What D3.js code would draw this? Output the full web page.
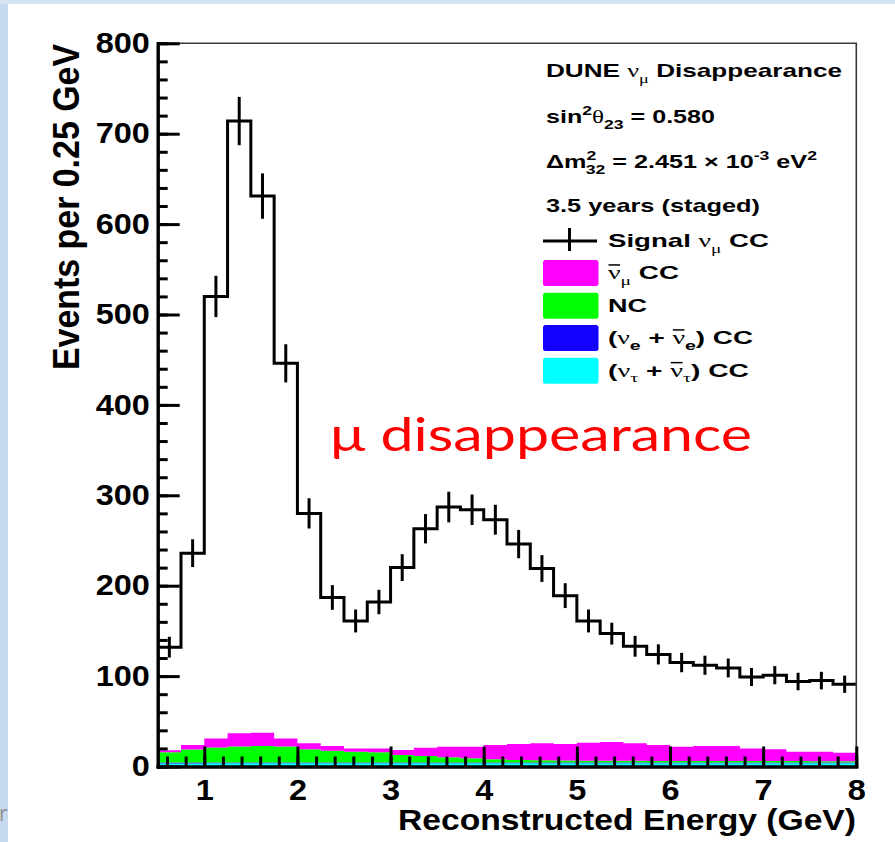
<!DOCTYPE html>
<html>
<head>
<meta charset="utf-8">
<script src="https://cdn.jsdelivr.net/npm/d3@7"></script>
<style>
  html, body { margin: 0; padding: 0; background: #ffffff; }
  svg { display: block; }
  .root-text { font-family: "Liberation Sans", Arial, Helvetica, sans-serif; font-weight: bold; fill: #000; }
</style>
</head>
<body>
<svg id="chart" width="895" height="842"></svg>
<script>
// ---- Data: reconstructed-energy histograms, 0.25 GeV bins from 0.5 to 8 GeV ----
const binLowEdges = [0.5, 0.75, 1.0, 1.25, 1.5, 1.75, 2.0, 2.25, 2.5, 2.75,
                     3.0, 3.25, 3.5, 3.75, 4.0, 4.25, 4.5, 4.75, 5.0, 5.25,
                     5.5, 5.75, 6.0, 6.25, 6.5, 6.75, 7.0, 7.25, 7.5, 7.75];
const binWidth = 0.25;

// Signal nu_mu CC events per bin
const signalNumuCC = [132, 236, 520, 714, 631, 446, 280, 187, 161, 182,
                      220, 263, 287, 284, 273, 246, 219, 189, 161, 147,
                      133, 124, 115, 112, 109, 99, 101, 94, 95, 91];

// Backgrounds (stacked, bottom to top: nu_tau, nu_e, NC, anti-nu_mu)
const nutauCC = [3.4, 3.4, 3.5, 3.5, 3.5, 3.5, 3.5, 3.5, 3.5, 3.5,
                 3.5, 3.5, 3.5, 3.5, 3.5, 3.5, 3.5, 3.5, 3.5, 3.5,
                 3.5, 3.5, 3.5, 3.5, 3.5, 3.5, 3.5, 3.5, 3.5, 3.5];
const nueCC = [1.0, 1.0, 1.0, 1.0, 1.0, 1.0, 1.0, 1.0, 1.0, 1.0,
               1.0, 1.0, 1.0, 1.0, 1.0, 1.0, 1.0, 1.0, 1.0, 1.0,
               1.0, 1.0, 1.0, 1.0, 1.0, 1.0, 1.0, 1.0, 1.0, 1.0];
const ncEvents = [11.5, 14.5, 16.5, 17.5, 18.2, 17.5, 14.5, 13.0, 11.9, 11.2,
                  8.2, 7.1, 5.6, 4.5, 3.4, 2.7, 2.3, 2.0, 1.9, 1.8,
                  1.8, 1.7, 1.7, 1.6, 1.6, 1.5, 1.5, 1.5, 1.4, 1.4];
const numubarCC = [2.0, 5.0, 10.0, 14.7, 14.7, 9.0, 6.6, 5.2, 3.6, 4.3,
                   5.6, 9.2, 11.8, 12.9, 15.9, 17.7, 18.8, 18.4, 20.0, 20.7,
                   19.3, 17.6, 15.7, 16.6, 16.6, 14.0, 13.0, 10.4, 10.5, 9.4];

// Axis ticks
const yMajorTicks = [0, 100, 200, 300, 400, 500, 600, 700, 800];
const xMajorTicks = [1, 2, 3, 4, 5, 6, 7, 8];

// ---- Layout ----
const svg = d3.select("#chart");
const W = 895, H = 842;

const x = d3.scaleLinear().domain([0.5, 8]).range([157.7, 856.3]);
const y = d3.scaleLinear().domain([0, 800]).range([766.5, 43.3]);

// slide backdrop and white canvas
svg.append("rect").attr("width", W).attr("height", H).attr("fill", "#d3e3f4");
svg.append("rect").attr("x", 0).attr("y", 4).attr("width", 8).attr("height", H - 4).attr("fill", "#c6daef");
svg.append("rect").attr("x", 8).attr("y", 4).attr("width", W - 8).attr("height", H - 4).attr("fill", "#ffffff");
svg.append("text").attr("x", -1).attr("y", 821)
  .attr("font-family", "'Open Sans', sans-serif").attr("font-size", 21).attr("fill", "#8f8f8f").text("r");

// ---- Stacked background fills ----
const bins = binLowEdges.map((lo, i) => ({
  lo, hi: lo + binWidth,
  nutau: nutauCC[i], nue: nueCC[i], nc: ncEvents[i], numubar: numubarCC[i]
}));
const stackKeys = ["nutau", "nue", "nc", "numubar"];
const stackColors = { nutau: "#00ffff", nue: "#1400ff", nc: "#00ff00", numubar: "#ff00ff" };
const layers = d3.stack().keys(stackKeys)(bins);

const stepArea = d3.area()
  .x(d => x(d.x)).y0(d => y(d.y0)).y1(d => y(d.y1));

const fillG = svg.append("g");
layers.forEach(layer => {
  const pts = [];
  layer.forEach(seg => {
    pts.push({ x: seg.data.lo, y0: seg[0], y1: seg[1] });
    pts.push({ x: seg.data.hi, y0: seg[0], y1: seg[1] });
  });
  fillG.append("path").attr("d", stepArea(pts))
    .attr("fill", stackColors[layer.key]).attr("stroke", "none");
});

// ---- Signal histogram outline with Poisson error bars ----
const stepPts = [];
binLowEdges.forEach((lo, i) => {
  stepPts.push([lo, signalNumuCC[i]]);
  stepPts.push([lo + binWidth, signalNumuCC[i]]);
});
const stepLine = d3.line().x(d => x(d[0])).y(d => y(d[1]));
svg.append("path").attr("d", stepLine(stepPts))
  .attr("fill", "none").attr("stroke", "#000").attr("stroke-width", 3)
  .attr("stroke-linejoin", "miter");

svg.append("g").selectAll("line").data(binLowEdges.map((lo, i) => ({ c: lo + binWidth / 2, v: signalNumuCC[i] })))
  .join("line")
  .attr("x1", d => x(d.c)).attr("x2", d => x(d.c))
  .attr("y1", d => y(d.v + Math.sqrt(d.v))).attr("y2", d => y(d.v - Math.sqrt(d.v)))
  .attr("stroke", "#000").attr("stroke-width", 3);

// ---- Frame (thin top/right) ----
svg.append("path")
  .attr("d", `M${x(0.5)},${y(800)}H${x(8)}V${y(0)}`)
  .attr("fill", "none").attr("stroke", "#3a3a3a").attr("stroke-width", 1.6);

// ---- Axes with inward ticks ----
const labelScale = 1.12;
function styleAxis(g) {
  g.select(".domain").attr("stroke", "#000").attr("stroke-width", 3);
  g.selectAll(".tick line").attr("stroke", "#000").attr("stroke-width", 3);
}
const yMinor = svg.append("g").attr("transform", `translate(${x(0.5)},0)`)
  .call(d3.axisLeft(y).tickValues(d3.range(0, 801, 20)).tickSize(-10).tickSizeOuter(0).tickFormat(""));
styleAxis(yMinor);
const yMajor = svg.append("g").attr("transform", `translate(${x(0.5)},0)`)
  .call(d3.axisLeft(y).tickValues(yMajorTicks).tickSize(-22).tickSizeOuter(0).tickPadding(7));
styleAxis(yMajor);
yMajor.selectAll(".tick text").attr("class", "root-text").attr("font-size", 29)
  .attr("transform", `scale(${labelScale},1)`);

const xMinorVals = d3.range(3, 41).map(k => k * 0.2).filter(v => v > 0.5 && v < 8.01);
const xMinor = svg.append("g").attr("transform", `translate(0,${y(0)})`)
  .call(d3.axisBottom(x).tickValues(xMinorVals).tickSize(-10).tickSizeOuter(0).tickFormat(""));
styleAxis(xMinor);
const xMajor = svg.append("g").attr("transform", `translate(0,${y(0)})`)
  .call(d3.axisBottom(x).tickValues(xMajorTicks).tickSize(-20).tickSizeOuter(0).tickPadding(13).tickFormat(d3.format("d")));
styleAxis(xMajor);
xMajor.selectAll(".tick text").attr("class", "root-text").attr("font-size", 29)
  .each(function () {
    const t = d3.select(this);
    t.attr("transform", `scale(${labelScale},1)`).attr("x", 0);
  });
svg.selectAll(".domain").attr("stroke-linecap", "square");

// Axis titles
svg.append("text").attr("class", "root-text")
  .attr("x", 856).attr("y", 830).attr("text-anchor", "end").attr("font-size", 29)
  .attr("textLength", 458).attr("lengthAdjust", "spacingAndGlyphs")
  .text("Reconstructed Energy (GeV)");

svg.append("text").attr("class", "root-text")
  .attr("transform", "translate(79,44) rotate(-90)")
  .attr("text-anchor", "end").attr("font-size", 37)
  .attr("textLength", 326).attr("lengthAdjust", "spacingAndGlyphs")
  .text("Events per 0.25 GeV");

// ---- Legend ----
// parts: {t, sub, sup, greek, bar, dx}
function richText(xPos, yPos, size, parts, length) {
  const t = svg.append("text").attr("class", "root-text")
    .attr("x", xPos).attr("y", yPos).attr("font-size", size);
  if (length) t.attr("textLength", length).attr("lengthAdjust", "spacingAndGlyphs");
  let shift = 0;
  const bars = [];
  parts.forEach(p => {
    const s = t.append("tspan").text(p.t);
    let target = 0;
    if (p.sub) { s.attr("font-size", size * 0.7); target = size * 0.3; }
    if (p.sup) { s.attr("font-size", size * 0.7); target = -size * 0.42; }
    if (p.greek) s.attr("font-weight", "normal").attr("font-family", "'Liberation Serif', 'DejaVu Serif', serif");
    s.attr("dy", target - shift);
    if (p.dx) s.attr("dx", p.dx);
    shift = target;
    if (p.bar) bars.push(s.node());
  });
  bars.forEach(node => {
    const r = node.getExtentOfChar(0);
    svg.append("line")
      .attr("x1", r.x + 0.5).attr("x2", r.x + r.width - 0.5)
      .attr("y1", yPos - size * 0.74).attr("y2", yPos - size * 0.74)
      .attr("stroke", "#000").attr("stroke-width", 1.5);
  });
  return t;
}

const fs = 19;
richText(546, 77, fs, [{ t: "DUNE " }, { t: "ν", greek: true }, { t: "μ", sub: true, greek: true }, { t: " Disappearance" }], 296);
richText(546, 123, fs, [{ t: "sin" }, { t: "2", sup: true }, { t: "θ", greek: true }, { t: "23", sub: true }, { t: " = 0.580" }], 169);
richText(546, 168, fs, [{ t: "Δm" }, { t: "2", sup: true }, { t: "32", sub: true, dx: -8 }, { t: " = 2.451 × 10" }, { t: "-3", sup: true }, { t: " eV" }, { t: "2", sup: true }], 271);
richText(546, 212, fs, [{ t: "3.5 years (staged)" }], 214);

// signal marker
svg.append("line").attr("x1", 543).attr("x2", 597).attr("y1", 241).attr("y2", 241)
  .attr("stroke", "#000").attr("stroke-width", 3);
svg.append("line").attr("x1", 569.5).attr("x2", 569.5).attr("y1", 228).attr("y2", 251)
  .attr("stroke", "#000").attr("stroke-width", 3);
richText(608, 247, fs, [{ t: "Signal " }, { t: "ν", greek: true }, { t: "μ", sub: true, greek: true }, { t: " CC" }], 161);

const legendRows = [
  { key: "numubar", y: 260, parts: [{ t: "ν", greek: true, bar: true }, { t: "μ", sub: true, greek: true }, { t: " CC" }], len: 71 },
  { key: "nc", y: 292.7, parts: [{ t: "NC" }], len: 39 },
  { key: "nue", y: 325, parts: [{ t: "(" }, { t: "ν", greek: true }, { t: "e", sub: true }, { t: " + " }, { t: "ν", greek: true, bar: true }, { t: "e", sub: true }, { t: ") CC" }], len: 145 },
  { key: "nutau", y: 357.7, parts: [{ t: "(" }, { t: "ν", greek: true }, { t: "τ", sub: true, greek: true }, { t: " + " }, { t: "ν", greek: true, bar: true }, { t: "τ", sub: true, greek: true }, { t: ") CC" }], len: 141 }
];
legendRows.forEach(r => {
  svg.append("rect").attr("x", 543).attr("y", r.y).attr("width", 55.5).attr("height", 26)
    .attr("rx", 2.5).attr("fill", stackColors[r.key]);
  richText(608, r.y + 19, fs, r.parts, r.len);
});

// ---- Annotation ----
svg.append("text").attr("x", 330).attr("y", 451)
  .attr("font-family", "Lato, 'Open Sans', sans-serif").attr("font-size", 46)
  .attr("fill", "#ff0000").attr("textLength", 422).attr("lengthAdjust", "spacingAndGlyphs")
  .text("μ disappearance");
</script>
</body>
</html>
